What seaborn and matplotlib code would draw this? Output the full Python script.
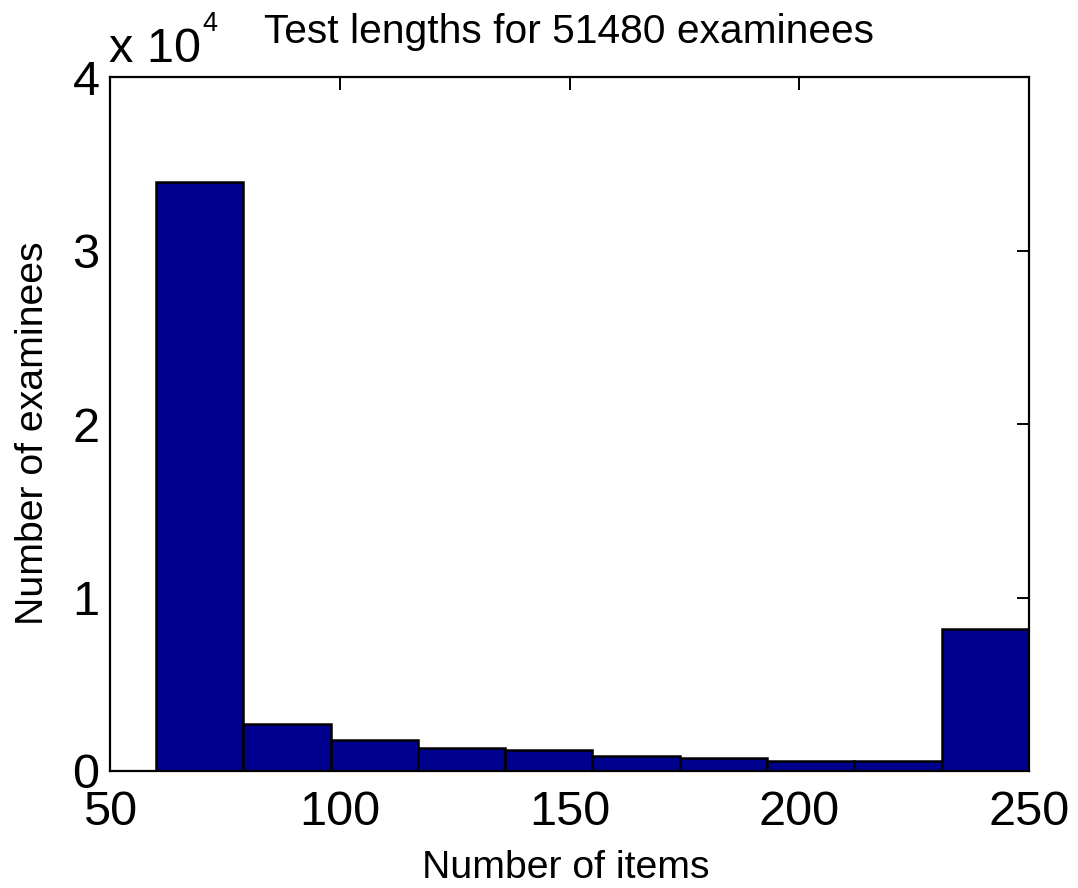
import matplotlib
matplotlib.use("Agg")
import matplotlib.pyplot as plt
import seaborn as sns

# Histogram of test lengths: bin edges and examinee counts per bin
bin_edges = [60, 79, 98, 117, 136, 155, 174, 193, 212, 231, 250]
counts = [33950, 2700, 1780, 1320, 1190, 860, 730, 575, 575, 8200]
x_ticks = [50, 100, 150, 200, 250]
y_ticks = [0, 10000, 20000, 30000, 40000]
y_tick_labels = ["0", "1", "2", "3", "4"]

sns.set_style("white")
plt.rcParams["font.family"] = ["Liberation Sans", "DejaVu Sans"]
plt.rcParams["text.color"] = "black"

W, H = 1078, 888
fig = plt.figure(figsize=(W / 100, H / 100), dpi=100)
ax = fig.add_axes([110 / W, 1 - 771 / H, (1029 - 110) / W, (771 - 77) / H])

centers = [(a + b) / 2 for a, b in zip(bin_edges[:-1], bin_edges[1:])]
sns.histplot(x=centers, weights=counts, bins=bin_edges, ax=ax,
             color="#00008F", edgecolor="black", linewidth=1.8, alpha=1.0)

ax.set_xlim(50, 250)
ax.set_ylim(0, 40000)
ax.set_xticks(x_ticks)
ax.set_xticklabels([str(v) for v in x_ticks])
ax.set_yticks(y_ticks)
ax.set_yticklabels(y_tick_labels)
ax.tick_params(direction="in", length=9, width=1.4, top=True, right=True,
               labelsize=35, colors="black")
ax.tick_params(axis="x", pad=14)
ax.tick_params(axis="y", pad=7.5)
for s in ax.spines.values():
    s.set_visible(True)
    s.set_color("black")
    s.set_linewidth(1.6)
ax.set_xlabel("")
ax.set_ylabel("")


def fx(px):
    return px / W


def fy(py):
    return 1 - py / H


fig.text(fx(569), fy(43), "Test lengths for 51480 examinees", fontsize=29.3,
         ha="center", va="baseline", color="black")
fig.text(fx(566), fy(878), "Number of items", fontsize=28.3,
         ha="center", va="baseline", color="black")
fig.text(fx(33), fy(433), "Number of examinees", fontsize=28.3, rotation=90,
         ha="center", va="center", color="black")

# scale multiplier shown above the y axis
fig.text(fx(109), fy(62), "x 10", fontsize=35, ha="left", va="baseline")
fig.text(fx(202), fy(31), "4", fontsize=19.5, ha="left", va="baseline")

fig.savefig("out.png", dpi=100, facecolor="white")
